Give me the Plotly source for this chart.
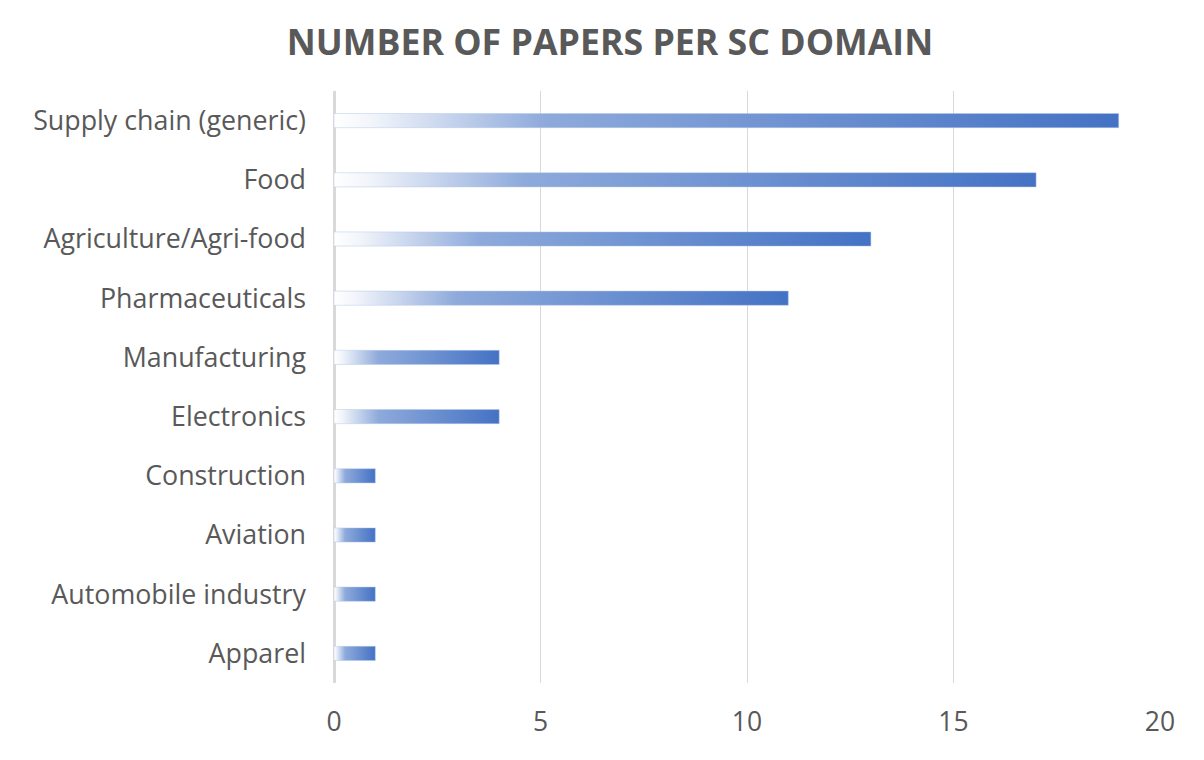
import plotly.graph_objects as go

categories = ["Supply chain (generic)", "Food", "Agriculture/Agri-food", "Pharmaceuticals",
              "Manufacturing", "Electronics", "Construction", "Aviation",
              "Automobile industry", "Apparel"]
papers = [19, 17, 13, 11, 4, 4, 1, 1, 1, 1]
x_ticks = [0, 5, 10, 15, 20]

half = 0.12
grad = [[0, "#ffffff"], [0.05, "#f1f4fa"], [0.27, "#8eaadb"], [1, "#4472c4"]]

fig = go.Figure()
for i, (cat, v) in enumerate(zip(categories, papers)):
    fig.add_trace(go.Scatter(
        x=[0, v, v, 0, 0],
        y=[i - half, i - half, i + half, i + half, i - half],
        mode="lines", fill="toself",
        line=dict(width=0.6, color="rgba(180,200,232,0.8)"),
        fillgradient=dict(type="horizontal", colorscale=grad),
        name=cat, showlegend=False, hoverinfo="skip",
    ))

font_family = "Open Sans"
fig.update_layout(
    width=1204, height=760,
    paper_bgcolor="white", plot_bgcolor="white",
    margin=dict(l=326, r=52, t=83, b=85),
    title=dict(text="<b>NUMBER OF PAPERS PER SC DOMAIN</b>", x=0.5, xanchor="center",
               y=0.955, yanchor="middle",
               font=dict(family=font_family, size=35.7, color="#595959")),
    font=dict(family=font_family, color="#595959"),
    xaxis=dict(range=[0, 20], tickvals=x_ticks, showgrid=True, gridcolor="#d9d9d9",
               gridwidth=1, zeroline=True, zerolinecolor="#d9d9d9", zerolinewidth=3,
               showline=False, ticks="", ticklabelstandoff=20,
               tickfont=dict(size=26.5, color="#595959")),
    yaxis=dict(range=[len(categories) - 0.5, -0.5], tickvals=list(range(len(categories))),
               ticktext=categories, showgrid=False, zeroline=False, showline=False,
               ticks="", ticklabelstandoff=27, tickfont=dict(size=26.8, color="#595959")),
)

fig.write_html("out.html")
